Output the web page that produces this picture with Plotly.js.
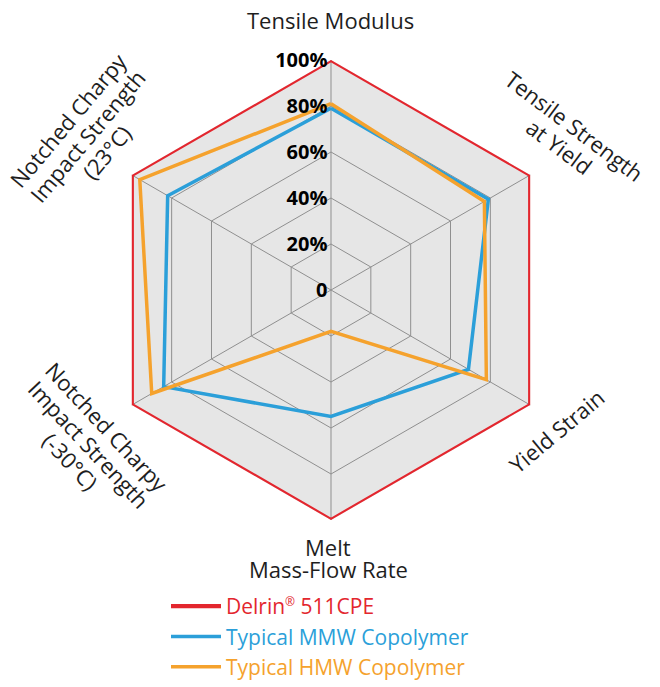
<!DOCTYPE html>
<html>
<head>
<meta charset="utf-8">
<script src="https://cdn.plot.ly/plotly-3.0.1.min.js"></script>
<style>html,body{margin:0;padding:0;background:#fff;}#chart{width:660px;height:687px;}</style>
</head>
<body>
<div id="chart"></div>
<script>
// ---- data ----
const categories = ['Tensile Modulus', 'Tensile Strength<br>at Yield', 'Yield Strain', 'Melt<br>Mass-Flow Rate', 'Notched Charpy<br>Impact Strength<br>(-30°C)', 'Notched Charpy<br>Impact Strength<br>(23°C)'];
const seriesNames = ['Delrin<sup><span style="font-size:12px">®</span></sup> 511CPE', 'Typical MMW Copolymer', 'Typical HMW Copolymer'];
const delrin = [100, 100, 100, 100, 100, 100];
const mmw = [79, 79, 69, 55, 84, 82];
const hmw = [81, 77, 78, 18, 90, 96];
const tickValues = [0, 20, 40, 60, 80, 100];
const tickLabels = ['0', '20%', '40%', '60%', '80%', '100%'];

// ---- styling ----
const colors = ['#e3262e', '#2b9fd9', '#f5a22d'];
const W = 660, H = 687;
const FONT = 'Open Sans, Noto Sans, sans-serif';

function closeLoop(a) { return a.concat([a[0]]); }
const allSeries = [delrin, mmw, hmw];
const widths = [4.2, 3.5, 3.5];

const traces = allSeries.map((vals, k) => ({
  type: 'scatterpolar',
  mode: 'lines',
  r: closeLoop(vals),
  theta: closeLoop(categories),
  name: '<span style="color:' + colors[k] + '">' + seriesNames[k] + '</span>',
  line: { color: colors[k], width: widths[k] },
  legendgroup: 'g' + k,
  hoverinfo: 'skip'
}));

const px = (x) => x / W;
const py = (y) => 1 - y / H;

// label layout (pixel centres, rotation in degrees clockwise, line gap)
const labelPlacement = [
  { x: 331, y: 20, a: 0, g: 23 },
  { x: 567, y: 136, a: 37, g: 26 },
  { x: 556, y: 431, a: -40, g: 25 },
  { x: 328, y: 558, a: 0, g: 22 },
  { x: 89, y: 444, a: 47, g: 25.5 },
  { x: 87, y: 136, a: -50, g: 25.5 }
];
const annotations = [];
categories.forEach((c, i) => {
  const lines = c.split('<br>');
  const p = labelPlacement[i];
  const rad = p.a * Math.PI / 180;
  const dx = -Math.sin(rad), dy = Math.cos(rad);
  lines.forEach((ln, j) => {
    const off = (j - (lines.length - 1) / 2) * p.g;
    annotations.push({
      text: ln,
      xref: 'paper', yref: 'paper',
      x: px(p.x + dx * off), y: py(p.y + dy * off),
      xanchor: 'center', yanchor: 'middle',
      textangle: p.a,
      showarrow: false,
      font: { family: FONT, size: 22, color: '#1e1e1e' }
    });
  });
});

const layout = {
  width: W, height: H,
  margin: { l: 0, r: 0, t: 0, b: 0 },
  paper_bgcolor: '#ffffff',
  showlegend: true,
  legend: {
    x: px(166), y: 0, xanchor: 'left', yanchor: 'bottom',
    font: { family: FONT, size: 21, color: '#333' },
    itemwidth: 50,
    tracegroupgap: 0,
    bgcolor: 'rgba(0,0,0,0)'
  },
  annotations: annotations,
  polar: {
    domain: { x: [px(101), px(561)], y: [py(520), py(60)] },
    gridshape: 'linear',
    bgcolor: '#e6e6e6',
    radialaxis: {
      range: [0, 100],
      angle: 90,
      tickangle: 90,
      tickmode: 'array',
      tickvals: tickValues,
      ticktext: tickLabels,
      showline: false,
      ticks: '',
      gridcolor: '#8f8f8f',
      gridwidth: 1,
      tickfont: { family: FONT, size: 20, color: '#000', weight: 'bold' },
      side: 'counterclockwise'
    },
    angularaxis: {
      direction: 'clockwise',
      rotation: 90,
      showticklabels: false,
      ticks: '',
      gridcolor: '#8f8f8f',
      gridwidth: 1,
      showline: false
    }
  }
};

Plotly.newPlot('chart', traces, layout, { displayModeBar: false, staticPlot: true });
</script>
</body>
</html>
